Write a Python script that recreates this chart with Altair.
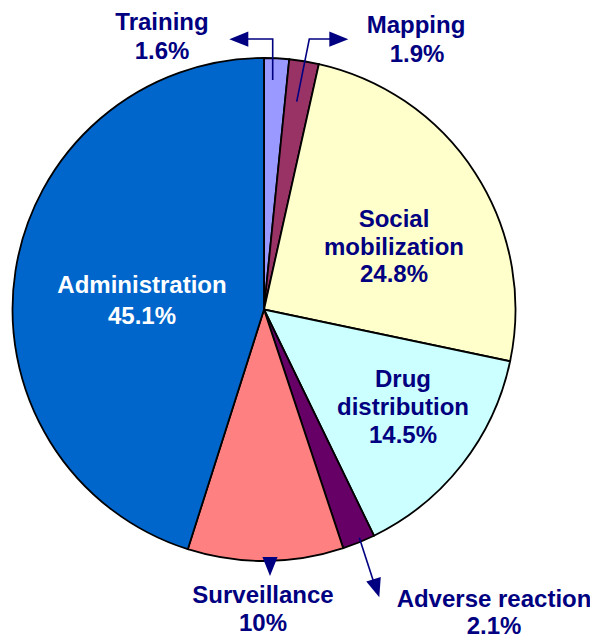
import altair as alt
import pandas as pd

# ---- data ----
categories = ["Training", "Mapping", "Social mobilization", "Drug distribution",
              "Adverse reaction", "Surveillance", "Administration"]
values = [1.6, 1.9, 24.8, 14.5, 2.1, 10.0, 45.1]
colors = ["#9999FF", "#993366", "#FFFFCC", "#CCFFFF", "#660066", "#FF8080", "#0066CC"]

# label lines (text, page x, page baseline y, colour)
label_text = ["Training", "1.6%", "Mapping", "1.9%",
              "Social", "mobilization", "24.8%",
              "Drug", "distribution", "14.5%",
              "Administration", "45.1%",
              "Surveillance", "10%",
              "Adverse reaction", "2.1%"]
label_x = [162, 162, 416, 417, 394, 394, 394, 403, 403, 403, 142, 142, 263, 263, 494, 494]
label_y = [30, 59, 33, 61.5, 227, 255, 282, 387, 415, 443, 293, 324, 603, 631, 607, 634]
label_col = ["#000080"] * 10 + ["#FFFFFF"] * 2 + ["#000080"] * 4

# leader lines (group, order, page x, page y)
line_grp = ["t", "t", "t", "m", "m", "m", "a", "a"]
line_ord = [0, 1, 2, 0, 1, 2, 0, 1]
line_x = [272.7, 272.7, 240, 296.7, 309.3, 335, 359.3, 375]
line_y = [80, 39, 39, 101.7, 39, 39, 537.7, 586]

# arrow heads (page x, page y, rotation)
head_x = [238.8, 338.8, 270, 376.4]
head_y = [39.2, 39.2, 566.5, 588.3]
head_ang = [270, 90, 180, 162.3]

M = 8  # page margin
CX, CY, R = 264 - M, 309.5 - M, 251.5

pie_df = pd.DataFrame({"cat": categories, "val": values, "idx": list(range(len(values)))})
lab_df = pd.DataFrame({"t": label_text, "x": [v - M for v in label_x],
                       "y": [v - M for v in label_y], "c": label_col})
line_df = pd.DataFrame({"g": line_grp, "o": line_ord, "x": [v - M for v in line_x],
                        "y": [v - M for v in line_y]})
head_df = pd.DataFrame({"x": [v - M for v in head_x], "y": [v - M for v in head_y], "a": head_ang})

pie = alt.Chart(pie_df).mark_arc(
    outerRadius=R, stroke="black", strokeWidth=1.8, x=CX, y=CY
).encode(
    theta=alt.Theta("val:Q", stack=True),
    order=alt.Order("idx:Q"),
    color=alt.Color("cat:N", scale=alt.Scale(domain=categories, range=colors), legend=None),
)

lines = alt.Chart(line_df).mark_line(color="#000080", strokeWidth=1.6).encode(
    x=alt.X("x:Q", scale=None, axis=None),
    y=alt.Y("y:Q", scale=None, axis=None),
    detail="g:N",
    order="o:Q",
)

heads = alt.Chart(head_df).mark_point(
    shape="M0,-1L-0.8,1L0.8,1Z", filled=True, color="#000080", opacity=1, size=361, strokeWidth=0
).encode(
    x=alt.X("x:Q", scale=None, axis=None),
    y=alt.Y("y:Q", scale=None, axis=None),
    angle=alt.Angle("a:Q", scale=None),
)

labels = alt.Chart(lab_df).mark_text(
    font="Liberation Sans", fontWeight="bold", fontSize=24, align="center", baseline="alphabetic"
).encode(
    x=alt.X("x:Q", scale=None, axis=None),
    y=alt.Y("y:Q", scale=None, axis=None),
    text="t:N",
    color=alt.Color("c:N", scale=None),
)

chart = alt.layer(pie, lines, heads, labels).properties(
    width=582, height=631, autosize="none", padding=0
).configure_view(stroke=None)

chart.save("out.html", embed_options={"renderer": "svg", "actions": False})
